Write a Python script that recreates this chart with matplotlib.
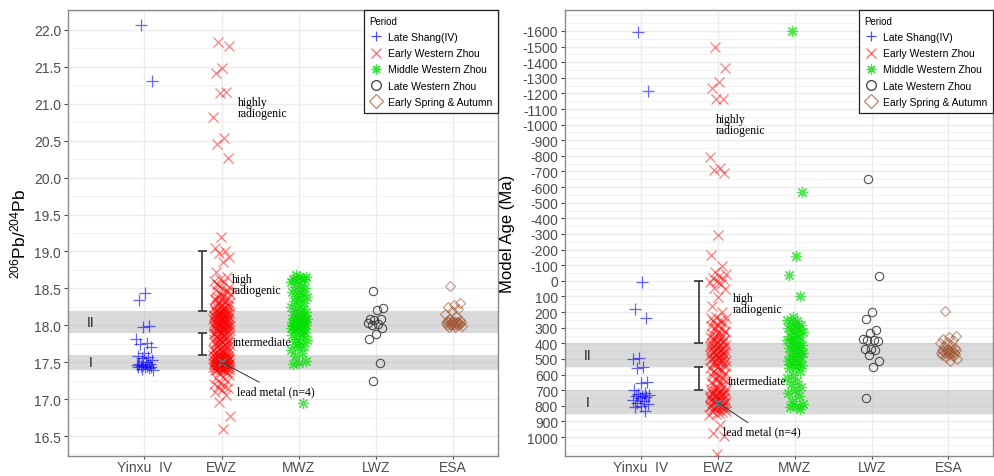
import numpy as np
import matplotlib
matplotlib.use("Agg")
import matplotlib.pyplot as plt
from matplotlib.lines import Line2D

plt.rcParams['font.family'] = ['Liberation Sans', 'DejaVu Sans']
plt.rcParams['mathtext.default'] = 'regular'

categories = ["Yinxu  IV", "EWZ", "MWZ", "LWZ", "ESA"]
periods = ["Late Shang(IV)", "Early Western Zhou", "Middle Western Zhou",
           "Late Western Zhou", "Early Spring & Autumn"]

# 206Pb/204Pb ratios per period
ratio_yinxu = [22.07, 21.31, 18.44, 18.34, 17.99, 17.98, 17.81, 17.76, 17.74, 17.71,
               17.62, 17.58, 17.57, 17.55, 17.53, 17.50, 17.48, 17.47, 17.46, 17.46,
               17.45, 17.45, 17.44, 17.44, 17.43, 17.42, 17.41, 17.40]
ratio_ewz = [21.84, 21.78, 21.49, 21.41, 21.16, 21.15, 20.82, 20.53, 20.45, 20.26,
             19.20, 19.05, 19.01, 18.98, 18.92, 18.86, 18.72, 18.66, 18.63, 18.60,
             18.58, 18.55, 18.52, 18.50, 18.48, 18.46, 18.44, 18.42, 18.40, 18.38,
             18.37, 18.35, 18.34, 18.32, 18.31, 18.30, 18.28, 18.27, 18.26, 18.25,
             18.24, 18.23, 18.22, 18.21, 18.20, 18.20, 18.19, 18.18,
             18.17, 18.16, 18.15, 18.15, 18.14, 18.13, 18.12, 18.12, 18.11, 18.10,
             18.10, 18.09, 18.08, 18.08, 18.07, 18.06, 18.06, 18.05, 18.04, 18.04,
             18.03, 18.02, 18.02, 18.01, 18.00, 18.00, 17.99, 17.98, 17.98, 17.97,
             17.96, 17.96, 17.95, 17.94, 17.94, 17.93, 17.92, 17.91, 17.90,
             17.89, 17.88, 17.87, 17.86, 17.85, 17.84, 17.83, 17.82, 17.81, 17.80,
             17.79, 17.78, 17.77, 17.76, 17.75, 17.74, 17.73, 17.72, 17.71, 17.70,
             17.69, 17.68, 17.67, 17.66, 17.65, 17.64, 17.63, 17.62, 17.61,
             17.60, 17.59, 17.59, 17.58, 17.58, 17.57, 17.57, 17.56, 17.56, 17.55,
             17.55, 17.54, 17.54, 17.53, 17.53, 17.52, 17.52, 17.51, 17.51, 17.50,
             17.50, 17.49, 17.49, 17.48, 17.48, 17.47, 17.47, 17.46, 17.46, 17.45,
             17.45, 17.44, 17.44, 17.43, 17.43, 17.42, 17.42, 17.41, 17.41, 17.40,
             17.38, 17.35, 17.33, 17.30, 17.28, 17.25, 17.22, 17.20, 17.18, 17.17,
             17.15, 17.12, 17.10, 17.06, 16.96, 16.77, 16.60,
             18.56, 18.47, 18.41, 18.36, 18.33, 18.29, 18.26, 18.22, 18.19, 18.17,
             18.16, 18.14, 18.13, 18.11, 18.09, 18.07, 18.05, 18.03, 18.01, 17.99,
             17.97, 17.95, 17.93, 17.91, 17.88, 17.85, 17.83, 17.80, 17.78, 17.75,
             17.72, 17.69, 17.66, 17.63, 17.60, 17.59, 17.58, 17.57, 17.56, 17.55,
             17.54, 17.53, 17.52, 17.51, 17.50, 17.49, 17.48, 17.47, 17.46, 17.45,
             17.44, 17.43, 17.42, 17.41, 17.40, 17.39, 17.37]
ratio_mwz = [18.68, 18.66, 18.65, 18.63, 18.62, 18.60, 18.58, 18.55, 18.52, 18.50,
             18.47, 18.45, 18.42, 18.40, 18.38, 18.35, 18.33, 18.30, 18.28, 18.25,
             18.22, 18.20, 18.18, 18.16, 18.14, 18.12, 18.10, 18.09, 18.08, 18.07,
             18.06, 18.05, 18.04, 18.03, 18.02, 18.01, 18.00, 17.99, 17.98, 17.97,
             17.96, 17.95, 17.93, 17.91, 17.89, 17.87, 17.85, 17.82, 17.80, 17.78,
             17.75, 17.72, 17.70, 17.66, 17.62, 17.58, 17.52, 17.49, 17.47, 16.95]
ratio_lwz = [18.46, 18.23, 18.21, 18.09, 18.08, 18.07, 18.03, 18.02, 18.00, 17.96,
             17.88, 17.81, 17.49, 17.25]
ratio_esa = [18.53, 18.30, 18.27, 18.25, 18.22, 18.20, 18.15, 18.12, 18.08, 18.07,
             18.06, 18.06, 18.05, 18.05, 18.04, 18.04, 18.04, 18.03, 18.03, 18.03,
             18.02, 18.02, 18.02, 18.01, 18.01, 18.00, 18.00, 17.99, 17.98, 17.97]

# Model ages (Ma) per period
age_yinxu = [-1590, -1215, 10, 180, 235, 495, 500, 550, 560, 650, 655, 700, 720,
             725, 730, 735, 740, 745, 750, 760, 770, 780, 790, 800, 810, 830]
age_ewz = [-1500, -1360, -1270, -1235, -1165, -1165, -795, -720, -710, -690,
           -295, -165, -95, -55, -45, -30, -20, -10, 0, 5, 20, 45, 55, 105, 160,
           200, 230, 240, 250, 260, 270, 280, 290, 300, 310, 320, 330, 340, 350,
           355, 360, 370, 375, 380, 390, 395, 400, 405, 410, 415, 420, 425, 430,
           435, 440, 445, 450, 455, 460, 465, 470, 475, 480, 485, 490, 495, 500,
           505, 510, 515, 520, 530, 540, 550, 560, 570, 580, 590, 600, 610, 620,
           630, 640, 650, 660, 670, 680, 690, 700, 705, 710, 715, 720, 725, 730,
           735, 740, 745, 750, 755, 760, 765, 770, 775, 780, 785, 790, 795, 800,
           805, 810, 815, 820, 830, 840, 850, 860, 920, 975, 990, 1110,
           235, 265, 295, 325, 345, 365, 385, 400, 420, 440, 455, 470, 485, 500,
           515, 530, 545, 565, 585, 605, 625, 645, 665, 685, 700, 710, 720, 730,
           740, 750, 760, 770, 780, 790, 800, 810, 820, 835, 845]
age_mwz = [-1600, -570, -160, -40, 100, 230, 250, 260, 270, 280, 290, 300, 310,
           320, 330, 340, 350, 360, 370, 380, 390, 400, 410, 420, 430, 440, 450,
           460, 470, 480, 490, 500, 510, 520, 530, 540, 550, 560, 580, 600, 620,
           640, 660, 680, 700, 720, 740, 770, 790, 800, 810, 820]
age_lwz = [-655, -30, 200, 245, 315, 335, 372, 378, 380, 382, 436, 438, 440,
           475, 515, 553, 750]
age_esa = [195, 350, 360, 370, 380, 390, 400, 410, 420, 430, 435, 440, 440, 445,
           445, 450, 450, 455, 455, 460, 460, 465, 470, 470, 475, 480, 490, 500, 510]

# reference bands (I, II) and range brackets
ratio_bands = {"I": (17.4, 17.6), "II": (17.9, 18.2)}
ratio_brackets = [(18.2, 19.0), (17.6, 17.9)]
age_bands = {"I": (700, 850), "II": (400, 550)}
age_brackets = [(0, 400), (550, 700)]
lead_metal_ratio = 17.5
lead_metal_age = 780

styles = [
    dict(marker="+", color="#0000FF", alpha=0.6, ms=8, mew=0.9),
    dict(marker="x", color="#FF0000", alpha=0.5, ms=6.5, mew=0.9),
    dict(marker=(8, 2, 0), color="#00E000", alpha=0.7, ms=8, mew=0.9),
    dict(marker="o", color="#333333", alpha=0.85, ms=6, mew=0.8),
    dict(marker="D", color="#A0522D", alpha=0.6, ms=5.5, mew=0.8),
]


def jitter(n, width=0.11):
    k = np.arange(n)
    return ((k * 0.6180339887 + 0.31) % 1.0 - 0.5) * 2 * width


def draw_panel(ax, series, bands, brackets, lead_y, texts, lead_text_xy):
    for i, (vals, st) in enumerate(zip(series, styles)):
        x = (i + 1) + jitter(len(vals))
        ax.plot(x, vals, linestyle="none", marker=st["marker"], color=st["color"],
                alpha=st["alpha"], ms=st["ms"], mew=st["mew"], mfc="none", zorder=3)
    for name, (lo, hi) in bands.items():
        ax.axhspan(lo, hi, color="#BDBDBD", alpha=0.55, lw=0, zorder=1)
        ax.text(0.3, (lo + hi) / 2, name, ha="center", va="center",
                fontsize=10, color="#222222", zorder=4)
    for lo, hi in brackets:
        ax.vlines(1.75, lo, hi, color="#333333", lw=1.2, zorder=4)
        ax.hlines([lo, hi], 1.69, 1.81, color="#333333", lw=1.2, zorder=4)
    ax.plot([2], [lead_y], linestyle="none", marker="x", color="#2E9AA8",
            ms=6, mew=1.0, zorder=5)
    ax.annotate("lead metal (n=4)", xy=(2, lead_y), xytext=lead_text_xy,
                fontsize=8.5, family="Liberation Serif", va="center", ha="left",
                arrowprops=dict(arrowstyle="-", color="#333333", lw=0.7,
                                shrinkA=0, shrinkB=0), zorder=5)
    for (tx, ty, s) in texts:
        ax.text(tx, ty, s, fontsize=8.5, family="Liberation Serif", va="center",
                ha="left", linespacing=0.9, zorder=5)

    ax.set_xlim(0.01, 5.58)
    ax.set_xticks(np.arange(len(categories)) + 1)
    ax.set_xticklabels(categories)
    ax.set_axisbelow(True)
    ax.grid(which="major", color="#EBEBEB", lw=1.0)
    ax.grid(which="minor", axis="y", color="#F2F2F2", lw=0.7)
    for sp in ax.spines.values():
        sp.set_color("#8A8A8A")
        sp.set_linewidth(1.0)
    ax.tick_params(axis="both", which="major", labelsize=10, labelcolor="#4D4D4D",
                   color="#4D4D4D", length=3, width=0.8, pad=2)
    ax.tick_params(axis="x", which="major", length=2.5, pad=0.5)
    ax.tick_params(axis="both", which="minor", length=0)

    handles = [Line2D([], [], linestyle="none", marker=st["marker"], color=st["color"],
                      alpha=min(1, st["alpha"] + 0.1), ms=7, mew=0.9, mfc="none")
               for st in styles]
    leg = ax.legend(handles, periods, title="Period", loc="upper right",
                    bbox_to_anchor=(1.0, 1.0), borderaxespad=0.0, fontsize=7.5,
                    title_fontsize=7, fancybox=False, framealpha=1,
                    edgecolor="#222222", handlelength=1.2, handletextpad=0.6,
                    labelspacing=0.6, borderpad=0.55)
    leg._legend_box.align = "left"
    leg.get_frame().set_linewidth(0.9)


fig = plt.figure(figsize=(9.95, 4.77), dpi=100)
ax1 = fig.add_axes([0.0683, 0.0420, 0.4322, 0.9350])
ax2 = fig.add_axes([0.5678, 0.0420, 0.4302, 0.9350])

draw_panel(ax1, [ratio_yinxu, ratio_ewz, ratio_mwz, ratio_lwz, ratio_esa],
           ratio_bands, ratio_brackets, lead_metal_ratio,
           [(2.21, 20.95, "highly\nradiogenic"),
            (2.13, 18.55, "high\nradiogenic"),
            (2.15, 17.77, "intermediate")],
           (2.2, 17.11))
ax1.set_ylim(16.23, 22.27)
ax1.set_yticks(np.arange(16.5, 22.01, 0.5))
ax1.set_yticklabels([f"{v:.1f}" for v in np.arange(16.5, 22.01, 0.5)])
ax1.set_yticks(np.arange(16.25, 22.3, 0.25), minor=True)
ax1.set_ylabel("$^{206}$Pb/$^{204}$Pb", fontsize=12.5)
ax1.yaxis.set_label_coords(-0.093, 0.5)

draw_panel(ax2, [age_yinxu, age_ewz, age_mwz, age_lwz, age_esa],
           age_bands, age_brackets, lead_metal_age,
           [(1.97, -1000, "highly\nradiogenic"),
            (2.19, 145, "high\nradiogenic"),
            (2.13, 640, "intermediate")],
           (2.06, 965))
ax2.set_ylim(1121, -1734)
age_ticks = np.arange(-1600, 1001, 100)
ax2.set_yticks(age_ticks)
ax2.set_yticklabels([str(v) for v in age_ticks])
ax2.set_yticks(np.arange(-1700, 1101, 50), minor=True)
ax2.set_ylabel("Model Age (Ma)", fontsize=12)
ax2.yaxis.set_label_coords(-0.117, 0.5)

fig.savefig("out.png", dpi=100)
